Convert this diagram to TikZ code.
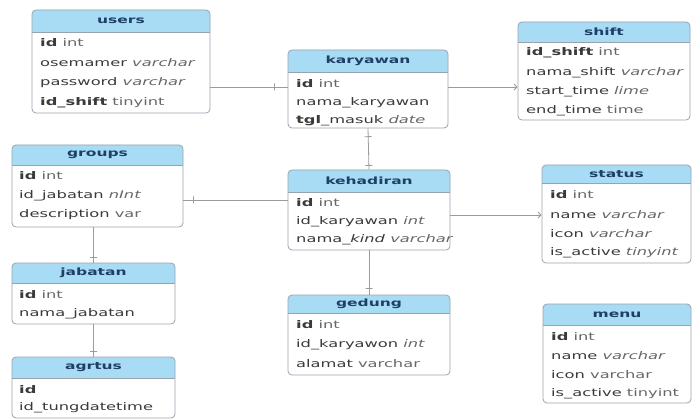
\documentclass[tikz,border=0pt]{standalone}
\usepackage{fontspec}
\setmainfont{DejaVu Sans}[FakeStretch=1.55]
\usetikzlibrary{fit,arrows.meta,calc}
\definecolor{hdrcol}{HTML}{A8DCF5}
\definecolor{ttlcol}{HTML}{1E3F66}
\definecolor{boxcol}{HTML}{9AA3AD}
\definecolor{linecol}{HTML}{9B9B9B}
\definecolor{txtcol}{HTML}{3A3A3A}
\definecolor{tycol}{HTML}{666666}
\newcommand\ty[1]{{\color{tycol}#1}}
\newcommand\tyi[1]{{\color{tycol}\itshape #1}}
\tikzset{
  hdrfill/.style={fill=hdrcol},
  boxline/.style={draw=boxcol, line width=0.8pt},
  tblframe/.style={draw=boxcol, line width=0.8pt, rounded corners=4pt, inner sep=0pt},
  ttl/.style={font=\fontsize{10}{12}\selectfont\bfseries, text=ttlcol, inner sep=0pt},
  rowtxt/.style={font=\fontsize{10.5}{12}\selectfont, text=txtcol, anchor=west, inner sep=0pt},
  conn/.style={draw=linecol, line width=0.8pt},
  tickmark/.style={draw=linecol, line width=0.8pt, minimum width=0pt, minimum height=7pt, inner sep=0pt, sloped},
  arr/.style={-{Straight Barb[length=3pt,width=6pt]}}
}
% name, x1, y1, x2, y2, y header bottom, title
\newcommand\ertbl[7]{%
  \fill[hdrfill] (#2,#6) [rounded corners=4pt] -- (#2,#3) -- (#4,#3) [sharp corners] -- (#4,#6) -- cycle;
  \draw[boxline] (#2,#6) -- (#4,#6);
  \node[tblframe, fit={(#2,#3) (#4,#5)}] (#1) {};
  \node[ttl] (#1-t) at ({(#2+#4)/2},{(#3+#6)/2}) {#7};
}
\newcommand\errow[4]{\node[rowtxt] (#1) at (#2,#3) {#4};}
\begin{document}
\begin{tikzpicture}[x=1pt,y=-1pt]
\fill[white] (0,0) rectangle (692,419);
\useasboundingbox (0,0) rectangle (692,419);

% users
\ertbl{users}{32}{10}{210}{113}{32}{users}
\errow{users-1}{40}{43}{\textbf{id} \ty{int}}
\errow{users-2}{40}{63}{osemamer \tyi{varchar}}
\errow{users-3}{40}{83}{password \tyi{varchar}}
\errow{users-4}{40}{103}{\textbf{id\_shift} \ty{tinyint}}

% karyawan
\ertbl{karyawan}{288}{50}{448}{128}{72}{karyawan}
\errow{kary-1}{296}{84}{\textbf{id} \ty{int}}
\errow{kary-2}{296}{103}{nama\_karyawan}
\errow{kary-3}{296}{121}{\textbf{tgl}\_masuk \tyi{date}}

% shift
\ertbl{shift}{518}{22}{690}{120}{42}{shift}
\errow{shift-1}{526}{53}{\textbf{id\_shift} \ty{int}}
\errow{shift-2}{526}{73}{nama\_shift \tyi{varchar}}
\errow{shift-3}{526}{92}{start\_time \tyi{lime}}
\errow{shift-4}{526}{111}{end\_time \ty{time}}

% groups
\ertbl{groups}{12}{145}{183}{227}{165}{groups}
\errow{groups-1}{19}{176}{\textbf{id} \ty{int}}
\errow{groups-2}{19}{196}{id\_jabatan \tyi{nInt}}
\errow{groups-3}{19}{215}{description \ty{var}}

% kehadiran
\ertbl{kehadiran}{288}{170}{450}{250}{192}{kehadiran}
\errow{keh-1}{296}{203}{\textbf{id} \ty{int}}
\errow{keh-2}{296}{222}{id\_karyawan \tyi{int}}
\errow{keh-3}{296}{240}{nama\_\textit{kind} \tyi{varchar}}

% status
\ertbl{status}{542}{165}{691}{263}{183}{status}
\errow{status-1}{550}{195}{\textbf{id} \ty{int}}
\errow{status-2}{550}{215}{name \tyi{varchar}}
\errow{status-3}{550}{234}{icon \tyi{varchar}}
\errow{status-4}{550}{253}{is\_active \tyi{tinyint}}

% gedung
\ertbl{gedung}{288}{295}{450}{375}{313}{gedung}
\errow{ged-1}{296}{325}{\textbf{id} \ty{int}}
\errow{ged-2}{296}{345}{id\_karyawon \tyi{int}}
\errow{ged-3}{296}{364}{alamat \ty{varchar}}

% jabatan
\ertbl{jabatan}{12}{263}{175}{324}{283}{jabatan}
\errow{jab-1}{19}{295}{\textbf{id} \ty{int}}
\errow{jab-2}{19}{314}{nama\_jabatan}

% agrtus
\ertbl{agrtus}{12}{357}{175}{418}{378}{agrtus}
\errow{agr-1}{19}{390}{\textbf{id}}
\errow{agr-2}{19}{408}{id\_tungdatetime}

% menu
\ertbl{menu}{543}{304}{691}{403}{325}{menu}
\errow{menu-1}{551}{337}{\textbf{id} \ty{int}}
\errow{menu-2}{551}{356}{name \tyi{varchar}}
\errow{menu-3}{551}{375}{icon \ty{varchar}}
\errow{menu-4}{551}{394}{is\_active \ty{tinyint}}

% connectors
\coordinate (h87) at (0,87);
\coordinate (h200) at (0,200);
\coordinate (h215) at (0,215);
\draw[conn] (users.east |- h87) -- node[tickmark, pos=0.83]{} (karyawan.west |- h87);
\draw[conn, arr] (karyawan.east |- h87) -- (shift.west |- h87);
\draw[conn] (groups.east |- h200) -- node[tickmark, pos=0.1]{} (kehadiran.west |- h200);
\draw[conn] (karyawan.south) -- node[tickmark, pos=0.2]{} node[tickmark, pos=0.9]{} (kehadiran.north);
\draw[conn] (kehadiran.south) -- node[tickmark, pos=0.85]{} (gedung.north);
\draw[conn, arr] (kehadiran.east |- h215) -- (status.west |- h215);
\draw[conn] (groups.south -| jabatan-t) -- node[tickmark, pos=0.85]{} (jabatan.north -| jabatan-t);
\draw[conn] (jabatan.south -| jabatan-t) -- node[tickmark, pos=0.85]{} (agrtus.north -| jabatan-t);
\end{tikzpicture}
\end{document}
